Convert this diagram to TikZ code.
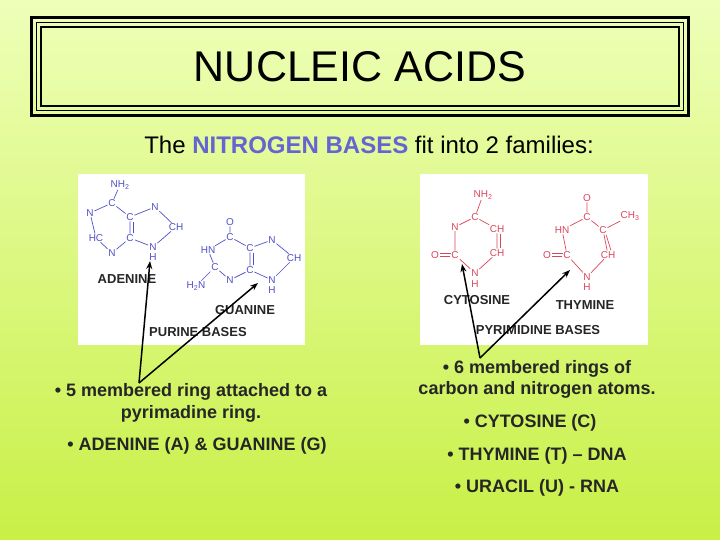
\documentclass[tikz,border=0pt]{standalone}
\usepackage{fontspec}
\setmainfont{Liberation Sans}
\usetikzlibrary{arrows.meta}
\definecolor{bgtop}{RGB}{238,255,185}
\definecolor{bgbot}{RGB}{200,240,70}
\definecolor{chemb}{RGB}{80,80,200}
\definecolor{chemr}{RGB}{220,70,90}
\definecolor{nbase}{RGB}{100,100,210}
\tikzset{
 atb/.style={font=\fontsize{10}{10}\selectfont,text=chemb,inner sep=0.6pt},
 atr/.style={font=\fontsize{10}{10}\selectfont,text=chemr,inner sep=0.6pt},
 bb/.style={draw=chemb,line width=0.7pt,shorten <=0.5pt,shorten >=0.5pt},
 br/.style={draw=chemr,line width=0.7pt,shorten <=0.5pt,shorten >=0.5pt},
 lab/.style={font=\bfseries\fontsize{13}{13}\selectfont,text=black!85},
 bul/.style={font=\bfseries\fontsize{18}{18}\selectfont,text=black!85,align=center},
 arr/.style={-{Stealth[length=8pt,width=6pt]},line width=1.5pt}
}
\begin{document}
\begin{tikzpicture}[x=1pt,y=-1pt]
\useasboundingbox (0,0) rectangle (720,540);
\shade[top color=bgtop,bottom color=bgbot] (0,0) rectangle (720,540);
% title frame
\draw[line width=3pt] (31.5,17.5) rectangle (688.5,115.5);
\draw[line width=1pt] (36.5,22.5) rectangle (683.5,110.5);
\draw[line width=2.5pt] (41,27) rectangle (679,106);
\node (title) at (360,67) {\fontsize{43}{43}\selectfont NUCLEIC ACIDS};
\node (sub) at (369,145) {\fontsize{24}{24}\selectfont The \textbf{\textcolor{nbase}{NITROGEN BASES}} fit into 2 families:};
% image panels
\fill[white] (78,174) rectangle (305,345);
\fill[white] (420,174) rectangle (648,345);
% adenine
\node[atb] (a1) at (120,185) {NH\textsubscript{2}};
\node[atb] (a2) at (112,203) {C};
\node[atb] (a3) at (90,213) {N};
\node[atb] (a4) at (96,238) {HC};
\node[atb] (a5) at (112,253) {N};
\node[atb] (a6) at (130,238) {C};
\node[atb] (a7) at (130,217) {C};
\node[atb] (a8) at (155,207) {N};
\node[atb] (a9) at (176,227) {CH};
\node[atb] (a10) at (153,247) {N};
\node[atb] (a11) at (153,257) {H};
\draw[bb] (a1)--(a2) (a2)--(a3) (a3)--(a4) (a4)--(a5) (a5)--(a6) (a6)--(a7) (a7)--(a2) (a7)--(a8) (a8)--(a9) (a9)--(a10) (a10)--(a6);
\draw[bb] ([xshift=3pt]a6.north)--([xshift=3pt]a7.south);
% guanine
\node[atb] (g1) at (230,222) {O};
\node[atb] (g2) at (230,237) {C};
\node[atb] (g3) at (208,250) {HN};
\node[atb] (g4) at (250,248) {C};
\node[atb] (g5) at (272,240) {N};
\node[atb] (g6) at (294,258) {CH};
\node[atb] (g7) at (250,270) {C};
\node[atb] (g8) at (272,280) {N};
\node[atb] (g9) at (272,290) {H};
\node[atb] (g10) at (230,280) {N};
\node[atb] (g11) at (215,267) {C};
\node[atb] (g12) at (196,286) {H\textsubscript{2}N};
\draw[bb] (g1)--(g2) (g2)--(g3) (g3)--(g11) (g11)--(g10) (g10)--(g7) (g7)--(g4) (g4)--(g2) (g4)--(g5) (g5)--(g6) (g6)--(g8) (g8)--(g7) (g11)--(g12);
\draw[bb] ([xshift=3pt]g7.north)--([xshift=3pt]g4.south);
\node[lab] (adl) at (127,279) {ADENINE};
\node[lab] (gul) at (245,310) {GUANINE};
\node[lab] (pul) at (198,332) {PURINE BASES};
% cytosine
\node[atr] (c1) at (483,195) {NH\textsubscript{2}};
\node[atr] (c2) at (475,217) {C};
\node[atr] (c3) at (455,227) {N};
\node[atr] (c4) at (497,229) {CH};
\node[atr] (c5) at (497,253) {CH};
\node[atr] (c6) at (455,255) {C};
\node[atr] (c7) at (435,255) {O};
\node[atr] (c8) at (475,273) {N};
\node[atr] (c9) at (475,284) {H};
\draw[br] (c1)--(c2) (c2)--(c3) (c2)--(c4) (c4)--(c5) (c3)--(c6) (c5)--(c8) (c8)--(c6);
\draw[br] ([yshift=1.3pt]c6.west)--([yshift=1.3pt]c7.east) ([yshift=-1.3pt]c6.west)--([yshift=-1.3pt]c7.east);
\draw[br] ([xshift=3pt]c4.south)--([xshift=3pt]c5.north);
\node[lab] (cyl) at (477,300) {CYTOSINE};
% thymine
\node[atr] (t1) at (587,198) {O};
\node[atr] (t2) at (587,217) {C};
\node[atr] (t3) at (630,216) {CH\textsubscript{3}};
\node[atr] (t4) at (603,230) {C};
\node[atr] (t5) at (562,230) {HN};
\node[atr] (t6) at (567,255) {C};
\node[atr] (t7) at (547,255) {O};
\node[atr] (t8) at (608,255) {CH};
\node[atr] (t9) at (587,277) {N};
\node[atr] (t10) at (587,287) {H};
\draw[br] (t1)--(t2) (t2)--(t4) (t4)--(t3) (t2)--(t5) (t5)--(t6) (t4)--(t8) (t8)--(t9) (t9)--(t6);
\draw[br] ([yshift=1.3pt]t6.west)--([yshift=1.3pt]t7.east) ([yshift=-1.3pt]t6.west)--([yshift=-1.3pt]t7.east);
\draw[br] ([xshift=3pt]t4.south)--([xshift=3pt]t8.north);
\node[lab] (thl) at (585,305) {THYMINE};
\node[lab] (pyl) at (538,330) {PYRIMIDINE BASES};
% arrows
\coordinate (la) at (139,383);
\coordinate (ra) at (480,358);
\draw[arr] (la) -- (150,261);
\draw[arr] (la) -- (258,283);
\draw[arr] (ra) -- (462,264);
\draw[arr] (ra) -- (570,270);
% bullet text
\node[bul] (l1) at (191,392) {• 5 membered ring attached to a};
\node[bul] (l2) at (191,414) {pyrimadine ring.};
\node[bul] (l3) at (197,446) {• ADENINE (A) \& GUANINE (G)};
\node[bul] (r1) at (537,369) {• 6 membered rings of};
\node[bul] (r2) at (537,390) {carbon and nitrogen atoms.};
\node[bul] (r3) at (530,423) {• CYTOSINE (C)};
\node[bul] (r4) at (537,456) {• THYMINE (T) – DNA};
\node[bul] (r5) at (537,488) {• URACIL (U) - RNA};
\end{tikzpicture}
\end{document}
